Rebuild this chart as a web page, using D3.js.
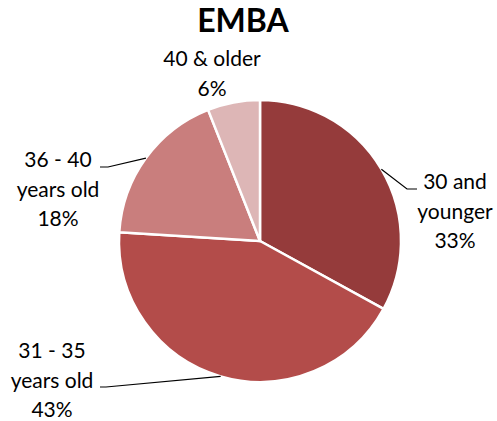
<!DOCTYPE html>
<html>
<head>
<meta charset="utf-8">
<script src="https://cdn.jsdelivr.net/npm/d3@7"></script>
<style>
  body { margin: 0; background: #fff; }
  text { font-family: Lato, "Open Sans", sans-serif; fill: #000; }
</style>
</head>
<body>
<div id="chart"></div>
<script>
// data
var categories = ["30 and younger", "31 - 35 years old", "36 - 40 years old", "40 & older"];
var values = [33, 43, 18, 6];
var labelLines = [["30 and", "younger"], ["31 - 35", "years old"], ["36 - 40", "years old"], ["40 & older"]];
var colors = ["#953b3b", "#b34c4a", "#c97e7d", "#ddb6b6"];

var width = 497, height = 421;
var cx = 260, cy = 241, radius = 141;

var svg = d3.select("#chart")
  .append("svg")
    .attr("width", width)
    .attr("height", height);

// title
svg.append("text")
  .attr("x", 243)
  .attr("y", 32)
  .attr("text-anchor", "middle")
  .style("font-size", "32px")
  .style("font-weight", "bold")
  .text("EMBA");

var pie = d3.pie().sort(null).value(function(d) { return d; });
var arcs = pie(values);
var arc = d3.arc().innerRadius(0).outerRadius(radius);

var g = svg.append("g")
  .attr("transform", "translate(" + cx + "," + cy + ")");

g.selectAll("path.slice")
  .data(arcs)
  .enter()
  .append("path")
    .attr("class", "slice")
    .attr("d", arc)
    .attr("fill", function(d, i) { return colors[i]; })
    .attr("stroke", "#fff")
    .attr("stroke-width", 2.5)
    .attr("stroke-linejoin", "round");

// label layout (relative to pie center): text center x, first baseline y, leader elbow & end
var layout = [
  { tx: 195, ty: -52, elbow: [147, -52], end: [157, -52] },
  { tx: -208, ty: 117, elbow: [-154, 146], end: [-160, 146] },
  { tx: -202, ty: -74, elbow: [-152, -74], end: [-160, -74] },
  { tx: -48, ty: -175, elbow: null, end: null }
];
var lineH = 29.5;

function edgePoint(d) {
  var a = (d.startAngle + d.endAngle) / 2;
  return [radius * Math.sin(a), -radius * Math.cos(a)];
}

arcs.forEach(function(d, i) {
  var L = layout[i];
  if (L.elbow) {
    g.append("polyline")
      .attr("points", [edgePoint(d), L.elbow, L.end].map(function(p) { return p.join(","); }).join(" "))
      .attr("fill", "none")
      .attr("stroke", "#000")
      .attr("stroke-width", 1.2);
  }
  var lines = labelLines[i].concat([d3.format(".0%")(d.data / 100)]);
  var t = g.append("text")
    .attr("text-anchor", "middle")
    .style("font-size", "21px");
  lines.forEach(function(s, k) {
    t.append("tspan")
      .attr("x", L.tx)
      .attr("y", L.ty + k * lineH)
      .text(s);
  });
});
</script>
</body>
</html>
